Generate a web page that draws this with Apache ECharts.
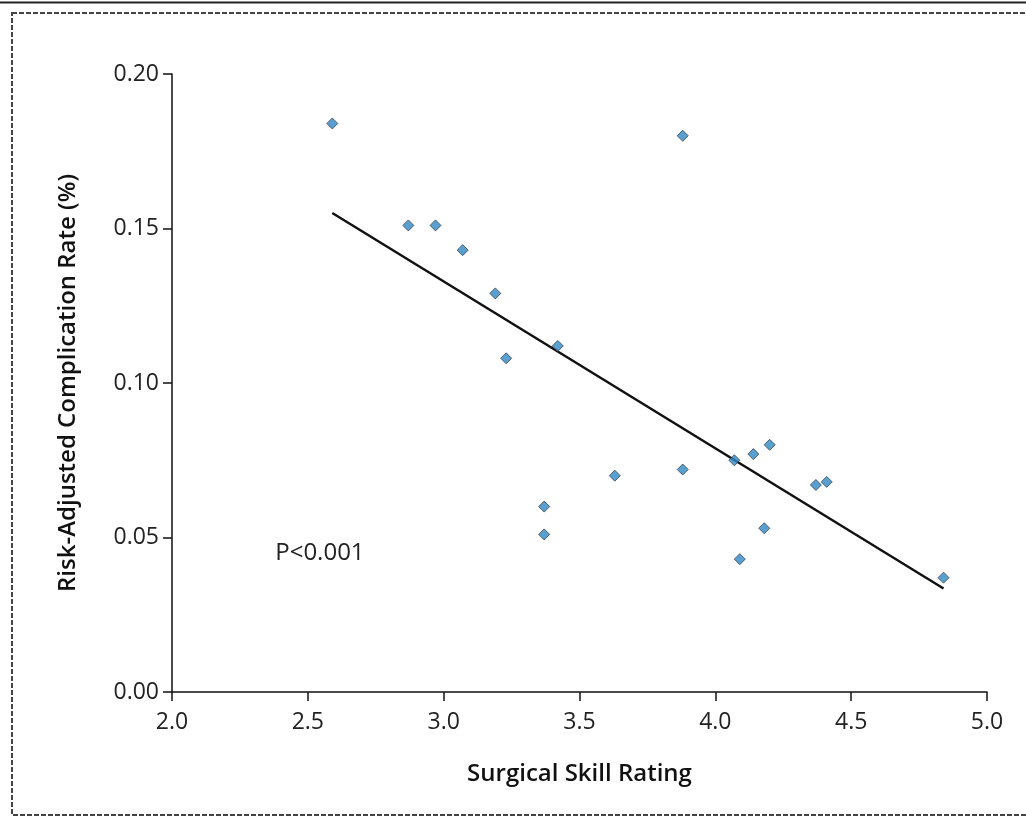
<!DOCTYPE html>
<html>
<head>
<meta charset="utf-8">
<script src="https://cdn.jsdelivr.net/npm/echarts@6/dist/echarts.min.js"></script>
<style>
  html, body { margin: 0; padding: 0; background: #fff; }
  #chart { width: 1026px; height: 819px; }
</style>
</head>
<body>
<div id="chart"></div>
<script>
// surgeon skill rating vs. risk-adjusted complication rate
const skillRating = [2.59, 2.87, 2.97, 3.07, 3.19, 3.23, 3.42, 3.37, 3.37, 3.63,
  3.88, 3.88, 4.07, 4.14, 4.20, 4.09, 4.18, 4.37, 4.41, 4.84];
const complicationRate = [0.184, 0.151, 0.151, 0.143, 0.129, 0.108, 0.112, 0.060, 0.051, 0.070,
  0.180, 0.072, 0.075, 0.077, 0.080, 0.043, 0.053, 0.067, 0.068, 0.037];
// fitted regression line endpoints
const fitX = [2.59, 4.84];
const fitY = [0.155, 0.0335];
const xTicks = [2.0, 2.5, 3.0, 3.5, 4.0, 4.5, 5.0];
const yTicks = [0.00, 0.05, 0.10, 0.15, 0.20];
const pLabel = "P<0.001";
const pPos = [2.38, 0.045];

const font = "'Open Sans', 'DejaVu Sans', sans-serif";
const chart = echarts.init(document.getElementById("chart"));

const points = skillRating.map((x, i) => [x, complicationRate[i]]);
const fit = fitX.map((x, i) => [x, fitY[i]]);

const axisCommon = {
  type: "value",
  axisLine: { show: true, onZero: false, lineStyle: { color: "#111", width: 1.5 } },
  axisTick: { show: true, inside: false, length: 9, lineStyle: { color: "#111", width: 1.5 } },
  splitLine: { show: false },
  axisLabel: { color: "#222", fontFamily: font, fontSize: 23 },
  nameTextStyle: { color: "#111", fontFamily: font, fontSize: 24, fontWeight: 600 }
};

chart.setOption({
  animation: false,
  grid: { left: 172, right: 39, top: 74, bottom: 127, containLabel: false },
  xAxis: Object.assign({}, axisCommon, {
    min: xTicks[0],
    max: xTicks[xTicks.length - 1],
    interval: 0.5,
    name: "Surgical Skill Rating",
    nameLocation: "middle",
    nameGap: 70,
    axisLabel: Object.assign({}, axisCommon.axisLabel, {
      margin: 19,
      formatter: v => v.toFixed(1)
    })
  }),
  yAxis: Object.assign({}, axisCommon, {
    min: yTicks[0],
    max: yTicks[yTicks.length - 1],
    interval: 0.05,
    name: "Risk-Adjusted Complication Rate (%)",
    nameLocation: "middle",
    nameGap: 92,
    axisLabel: Object.assign({}, axisCommon.axisLabel, {
      margin: 13,
      formatter: v => v.toFixed(2)
    })
  }),
  series: [
    {
      type: "line",
      data: fit,
      symbol: "none",
      lineStyle: { color: "#111", width: 2.5 },
      z: 2
    },
    {
      type: "scatter",
      data: points,
      symbol: "diamond",
      symbolSize: 11,
      itemStyle: { color: "#2f88c4", borderColor: "#3a4550", borderWidth: 1 },
      z: 3
    }
  ]
});

const pPix = chart.convertToPixel({ gridIndex: 0 }, pPos);
chart.setOption({
  graphic: [
    {
      type: "line",
      shape: { x1: 0, y1: 2.5, x2: 1026, y2: 2.5 },
      style: { stroke: "#222", lineWidth: 2 }
    },
    {
      type: "rect",
      shape: { x: 12, y: 13, width: 1030, height: 802 },
      style: { fill: "none", stroke: "#444", lineWidth: 2, lineDash: [5, 2] }
    },
    {
      type: "text",
      x: pPix[0],
      y: pPix[1],
      style: {
        text: pLabel,
        fill: "#222",
        font: "24px " + font,
        verticalAlign: "middle",
        align: "left"
      }
    }
  ]
});
</script>
</body>
</html>
